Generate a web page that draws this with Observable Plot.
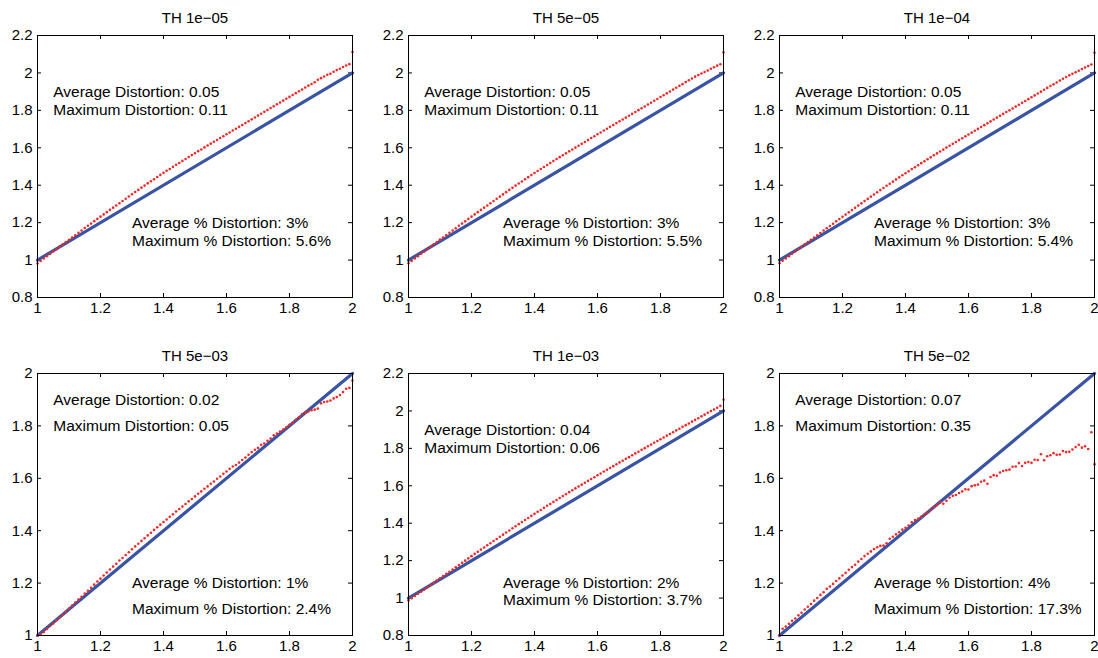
<!DOCTYPE html>
<html>
<head>
<meta charset="utf-8">
<script src="https://cdn.jsdelivr.net/npm/d3@7"></script>
<script src="https://cdn.jsdelivr.net/npm/@observablehq/plot@0.6"></script>
<style>
  body { margin: 0; background: #fff; }
  #chart { position: relative; width: 1098px; height: 658px; background: #fff; overflow: hidden; }
  .panel { position: absolute; }
  .panel svg { overflow: visible; }
</style>
</head>
<body>
<div id="chart"></div>
<script>
// ---- data ----
const xGrid = [1.00,1.01,1.02,1.03,1.04,1.05,1.06,1.07,1.08,1.09,
  1.10,1.11,1.12,1.13,1.14,1.15,1.16,1.17,1.18,1.19,
  1.20,1.21,1.22,1.23,1.24,1.25,1.26,1.27,1.28,1.29,
  1.30,1.31,1.32,1.33,1.34,1.35,1.36,1.37,1.38,1.39,
  1.40,1.41,1.42,1.43,1.44,1.45,1.46,1.47,1.48,1.49,
  1.50,1.51,1.52,1.53,1.54,1.55,1.56,1.57,1.58,1.59,
  1.60,1.61,1.62,1.63,1.64,1.65,1.66,1.67,1.68,1.69,
  1.70,1.71,1.72,1.73,1.74,1.75,1.76,1.77,1.78,1.79,
  1.80,1.81,1.82,1.83,1.84,1.85,1.86,1.87,1.88,1.89,
  1.90,1.91,1.92,1.93,1.94,1.95,1.96,1.97,1.98,1.99,
  2.00];

const th1e05 = [0.982,0.995,1.008,1.021,1.033,1.046,1.058,1.071,1.083,1.096,
  1.108,1.121,1.133,1.146,1.158,1.171,1.183,1.195,1.208,1.220,
  1.232,1.244,1.256,1.268,1.280,1.292,1.304,1.316,1.328,1.340,
  1.352,1.364,1.375,1.387,1.398,1.410,1.421,1.432,1.444,1.455,
  1.466,1.477,1.487,1.498,1.509,1.519,1.530,1.540,1.551,1.561,
  1.571,1.582,1.591,1.602,1.612,1.622,1.632,1.642,1.652,1.662,
  1.672,1.682,1.692,1.702,1.712,1.722,1.732,1.742,1.752,1.762,
  1.772,1.782,1.792,1.802,1.812,1.822,1.832,1.842,1.852,1.862,
  1.872,1.882,1.892,1.902,1.911,1.922,1.932,1.941,1.950,1.963,
  1.972,1.981,1.990,1.996,2.006,2.015,2.022,2.032,2.040,2.047,
  2.112];

const th5e05 = [0.983,0.995,1.009,1.021,1.034,1.046,1.059,1.071,1.084,1.096,
  1.109,1.121,1.134,1.146,1.158,1.170,1.183,1.195,1.207,1.220,
  1.232,1.244,1.256,1.268,1.280,1.292,1.304,1.316,1.328,1.339,
  1.351,1.363,1.375,1.386,1.398,1.409,1.420,1.432,1.443,1.454,
  1.465,1.476,1.487,1.497,1.508,1.519,1.529,1.540,1.550,1.560,
  1.571,1.581,1.591,1.601,1.611,1.621,1.631,1.641,1.652,1.662,
  1.672,1.682,1.692,1.702,1.712,1.722,1.732,1.742,1.751,1.761,
  1.771,1.781,1.791,1.801,1.811,1.821,1.831,1.841,1.851,1.861,
  1.871,1.881,1.891,1.901,1.911,1.921,1.931,1.940,1.951,1.961,
  1.970,1.980,1.989,1.997,2.005,2.013,2.022,2.030,2.039,2.046,
  2.110];

const th1e04 = [0.983,0.996,1.009,1.021,1.034,1.046,1.059,1.071,1.084,1.096,
  1.108,1.121,1.133,1.145,1.158,1.170,1.182,1.194,1.207,1.219,
  1.231,1.243,1.255,1.267,1.279,1.291,1.303,1.315,1.327,1.339,
  1.350,1.362,1.374,1.385,1.397,1.408,1.419,1.431,1.442,1.453,
  1.464,1.475,1.486,1.496,1.507,1.518,1.528,1.539,1.549,1.560,
  1.570,1.580,1.590,1.601,1.611,1.621,1.631,1.641,1.651,1.661,
  1.671,1.681,1.691,1.701,1.711,1.721,1.731,1.741,1.751,1.761,
  1.771,1.781,1.791,1.800,1.810,1.820,1.830,1.840,1.850,1.860,
  1.870,1.880,1.890,1.900,1.910,1.920,1.930,1.939,1.949,1.959,
  1.969,1.978,1.987,1.996,2.004,2.012,2.021,2.029,2.037,2.045,
  2.108];

const th5e03 = [1.000,1.004,1.013,1.025,1.036,1.046,1.057,1.068,1.079,1.091,
  1.103,1.114,1.126,1.137,1.148,1.160,1.171,1.182,1.194,1.206,
  1.217,1.229,1.240,1.252,1.263,1.274,1.286,1.296,1.307,1.318,
  1.329,1.340,1.350,1.361,1.371,1.382,1.392,1.403,1.413,1.423,
  1.433,1.443,1.453,1.463,1.473,1.483,1.492,1.502,1.512,1.521,
  1.531,1.541,1.550,1.560,1.569,1.579,1.588,1.598,1.607,1.617,
  1.626,1.636,1.645,1.651,1.660,1.670,1.679,1.690,1.700,1.709,
  1.716,1.728,1.733,1.743,1.752,1.764,1.771,1.778,1.786,1.795,
  1.804,1.812,1.823,1.833,1.845,1.850,1.855,1.860,1.862,1.866,
  1.886,1.891,1.893,1.897,1.905,1.910,1.918,1.929,1.942,1.945,
  1.973];

const th1e03 = [0.988,0.999,1.011,1.023,1.034,1.046,1.058,1.070,1.082,1.094,
  1.106,1.118,1.130,1.141,1.153,1.165,1.177,1.189,1.200,1.212,
  1.224,1.236,1.247,1.259,1.270,1.282,1.293,1.305,1.316,1.328,
  1.339,1.350,1.361,1.373,1.384,1.395,1.406,1.417,1.428,1.439,
  1.450,1.461,1.471,1.482,1.493,1.503,1.514,1.524,1.535,1.545,
  1.555,1.566,1.576,1.586,1.596,1.606,1.616,1.626,1.636,1.646,
  1.656,1.666,1.676,1.686,1.695,1.705,1.715,1.725,1.734,1.744,
  1.753,1.763,1.773,1.782,1.792,1.801,1.811,1.820,1.830,1.839,
  1.849,1.858,1.868,1.877,1.886,1.896,1.905,1.915,1.924,1.933,
  1.943,1.952,1.961,1.971,1.980,1.990,1.999,2.008,2.017,2.027,
  2.060];

const th5e02 = [1.000,1.026,1.034,1.045,1.056,1.065,1.077,1.087,1.099,1.110,
  1.120,1.133,1.143,1.155,1.165,1.178,1.187,1.197,1.208,1.218,
  1.229,1.239,1.251,1.261,1.270,1.282,1.292,1.303,1.312,1.321,
  1.330,1.337,1.342,1.343,1.352,1.369,1.377,1.386,1.394,1.404,
  1.411,1.420,1.432,1.441,1.445,1.453,1.462,1.470,1.480,1.490,
  1.498,1.508,1.503,1.514,1.526,1.533,1.536,1.544,1.550,1.558,
  1.557,1.570,1.573,1.576,1.587,1.591,1.579,1.605,1.612,1.610,
  1.622,1.628,1.631,1.633,1.644,1.645,1.658,1.647,1.659,1.662,
  1.659,1.671,1.670,1.692,1.669,1.684,1.688,1.696,1.690,1.691,
  1.704,1.700,1.701,1.710,1.719,1.728,1.717,1.722,1.712,1.776,
  1.654];

const idealX = [1, 2];
const idealY = [1, 2];

const titles = ["TH 1e\u221205", "TH 5e\u221205", "TH 1e\u221204", "TH 5e\u221203", "TH 1e\u221203", "TH 5e\u221202"];
const avgDist = ["0.05", "0.05", "0.05", "0.02", "0.04", "0.07"];
const maxDist = ["0.11", "0.11", "0.11", "0.05", "0.06", "0.35"];
const avgPct = ["3%", "3%", "3%", "1%", "2%", "4%"];
const maxPct = ["5.6%", "5.5%", "5.4%", "2.4%", "3.7%", "17.3%"];

const xTicks = [1, 1.2, 1.4, 1.6, 1.8, 2];
const yTicksWide = [0.8, 1, 1.2, 1.4, 1.6, 1.8, 2, 2.2];
const yTicksNarrow = [1, 1.2, 1.4, 1.6, 1.8, 2];

// ---- layout ----
const series = [th1e05, th5e05, th1e04, th5e03, th1e03, th5e02];
const yTickSets = [yTicksWide, yTicksWide, yTicksWide, yTicksNarrow, yTicksWide, yTicksNarrow];
const labelPos = [
  {x1: 1.05, y1: [1.9, 1.8], x2: 1.3, y2: [1.2, 1.1]},
  {x1: 1.05, y1: [1.9, 1.8], x2: 1.3, y2: [1.2, 1.1]},
  {x1: 1.05, y1: [1.9, 1.8], x2: 1.3, y2: [1.2, 1.1]},
  {x1: 1.05, y1: [1.9, 1.8], x2: 1.3, y2: [1.2, 1.1]},
  {x1: 1.05, y1: [1.9, 1.8], x2: 1.3, y2: [1.08, 0.99]},
  {x1: 1.05, y1: [1.9, 1.8], x2: 1.3, y2: [1.2, 1.1]}
];

const FONT = "'Liberation Sans', Arial, Helvetica, sans-serif";
const fmt = d => String(d);
const chart = document.getElementById("chart");
const innerW = 315, innerH = 262, tick = 4;

for (let i = 0; i < 6; i++) {
  const row = Math.floor(i / 3), col = i % 3;
  const height = row === 0 ? 330 : 328;
  const mt = row === 0 ? 35 : 43;
  const mb = height - mt - innerH;
  const yTicks = yTickSets[i];
  const pts = xGrid.map((x, k) => ({x, y: series[i][k]}));
  const ideal = idealX.map((x, k) => ({x, y: idealY[k]}));
  const lp = labelPos[i];
  const labels = [
    {x: lp.x1, y: lp.y1[0], t: "Average Distortion: " + avgDist[i]},
    {x: lp.x1, y: lp.y1[1], t: "Maximum Distortion: " + maxDist[i]},
    {x: lp.x2, y: lp.y2[0], t: "Average % Distortion: " + avgPct[i]},
    {x: lp.x2, y: lp.y2[1], t: "Maximum % Distortion: " + maxPct[i]}
  ];
  const p = Plot.plot({
    width: 356,
    height,
    marginLeft: 37,
    marginRight: 4,
    marginTop: mt,
    marginBottom: mb,
    x: {domain: [1, 2]},
    y: {domain: [yTicks[0], yTicks[yTicks.length - 1]]},
    style: {fontFamily: FONT, fontSize: "15px", background: "transparent", color: "black", overflow: "visible"},
    marks: [
      Plot.axisX({ticks: xTicks, tickSize: 0, tickPadding: 5, tickFormat: fmt, fontSize: 15, label: null}),
      Plot.axisY({ticks: yTicks, tickSize: 0, tickPadding: 5, tickFormat: fmt, fontSize: 15, label: null}),
      Plot.tickX(xTicks, {x: d => d, insetTop: innerH - tick, stroke: "black"}),
      Plot.tickX(xTicks, {x: d => d, insetBottom: innerH - tick, stroke: "black"}),
      Plot.tickY(yTicks, {y: d => d, insetRight: innerW - tick, stroke: "black"}),
      Plot.tickY(yTicks, {y: d => d, insetLeft: innerW - tick, stroke: "black"}),
      Plot.line(ideal, {x: "x", y: "y", stroke: "#3a54a4", strokeWidth: 3.2}),
      Plot.dot(pts, {x: "x", y: "y", r: 1.3, fill: "#f02828", stroke: null}),
      Plot.frame({stroke: "black", strokeWidth: 1}),
      Plot.text(labels, {x: "x", y: "y", text: "t", textAnchor: "start", lineAnchor: "middle", fontSize: 15.5, fill: "black"}),
      Plot.text([titles[i]], {frameAnchor: "top", dy: -17, text: d => d, lineAnchor: "middle", fontSize: 15, fill: "black"})
    ]
  });
  const div = document.createElement("div");
  div.className = "panel";
  div.style.left = (col * 371) + "px";
  div.style.top = (row * 330) + "px";
  div.appendChild(p);
  chart.appendChild(div);
}
</script>
</body>
</html>
